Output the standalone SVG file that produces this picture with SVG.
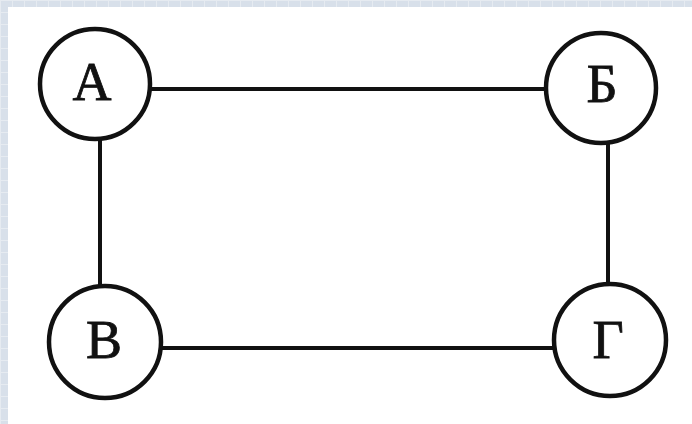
<svg xmlns="http://www.w3.org/2000/svg" width="692" height="424" viewBox="0 0 692 424">
<defs>
<pattern id="grid" width="12" height="12" patternUnits="userSpaceOnUse">
<rect width="12" height="12" fill="#d8e0ea"/>
<path d="M0 0.5H12M0.5 0V12" stroke="#e6ebf1" stroke-width="1"/>
</pattern>
</defs>
<style>
.node circle{fill:#fff;stroke:#111;stroke-width:4.5}
.node text{font-family:"Liberation Serif","Times New Roman",serif;font-size:54px;fill:#111;stroke:#111;stroke-width:0.8;text-anchor:middle}
#edges line{stroke:#111;stroke-width:4}
</style>
<rect width="692" height="424" fill="url(#grid)"/>
<rect x="8" y="7" width="684" height="417" fill="#fff"/>
<g id="edges">
<line x1="150" y1="89" x2="547" y2="89"/>
<line x1="100" y1="138" x2="100" y2="287"/>
<line x1="608" y1="143" x2="608" y2="285"/>
<line x1="161" y1="348" x2="555" y2="348"/>
</g>
<g id="node-A" class="node"><circle cx="95" cy="84" r="55"/><text x="92" y="100">А</text></g>
<g id="node-B" class="node"><circle cx="601" cy="88" r="55"/><text x="602" y="102">Б</text></g>
<g id="node-V" class="node"><circle cx="105" cy="342" r="56"/><text x="104" y="358">В</text></g>
<g id="node-G" class="node"><circle cx="610" cy="340" r="56"/><text x="608" y="358">Г</text></g>
</svg>
